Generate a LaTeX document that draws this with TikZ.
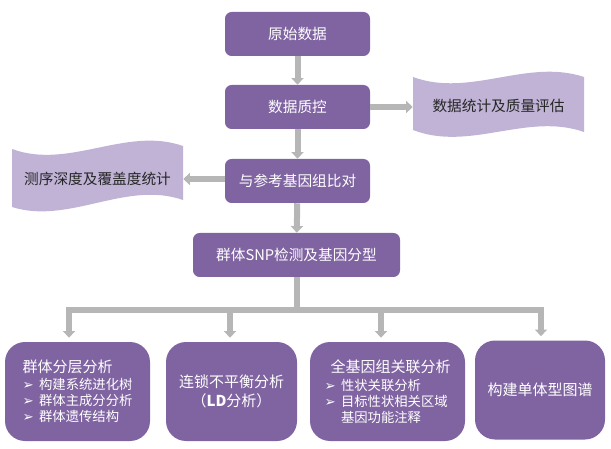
\documentclass[tikz,border=0pt]{standalone}
\usepackage{fontspec}
\setmainfont{Noto Sans CJK SC}
\newfontfamily\symfont{DejaVu Sans}
\usetikzlibrary{arrows.meta}

\definecolor{boxpurple}{RGB}{128,100,162}
\definecolor{bannerlilac}{RGB}{192,179,214}
\definecolor{bannerink}{RGB}{38,38,38}
\definecolor{arrowgray}{RGB}{182,182,182}

\newcommand{\bulletmark}{{\symfont\fontsize{10}{10}\selectfont ➢}\hspace{4pt}}

\begin{document}
\begin{tikzpicture}[x=0.75pt,y=0.75pt,yscale=-1,xscale=1,
    stepbox/.style={rounded corners=5pt, fill=boxpurple, text=white, minimum width=108.75pt, minimum height=33pt, inner sep=0pt, font=\fontsize{11}{13}\selectfont},
    resultbox/.style={rounded corners=15pt, fill=boxpurple, text=white, minimum height=74.25pt, inner sep=0pt},
    bannertext/.style={text=bannerink, inner sep=0pt, minimum width=128.25pt, font=\fontsize{11}{13}\selectfont},
    flow/.style={draw=arrowgray, line width=4.5pt},
    flowarrow/.style={flow, -{Triangle[width=9pt,length=5pt]}},
]
    \useasboundingbox (0,0) rectangle (611,449);

    %Shape: Wave [id:banner right]
    \fill [bannerlilac] (413,77) .. controls (470,98) and (527,58) .. (584,77) -- (584,132) .. controls (527,112) and (470,152) .. (413,130) -- cycle ;
    %Shape: Wave [id:banner left]
    \fill [bannerlilac] (12,149) .. controls (69,170) and (126,126) .. (183,146) -- (183,200) .. controls (126,180) and (69,225) .. (12,207) -- cycle ;

    % Step boxes
    \node [stepbox] (raw) at (297.5,34) {原始数据};
    \node [stepbox] (qc) at (297.5,107) {数据质控};
    \node [stepbox] (ref) at (297.5,181) {与参考基因组比对};
    \node [stepbox, minimum width=155.25pt] (snp) at (296.5,255) {群体SNP检测及基因分型};

    % Text Node
    \node [bannertext] (banR) at (498.5,106) {数据统计及质量评估};
    % Text Node
    \node [bannertext] (banL) at (97.5,179) {测序深度及覆盖度统计};

    % Result boxes
    \node [resultbox, minimum width=108.75pt, align=left, font=\fontsize{10}{12}\selectfont] (b1) at (77.5,391.5)
        {{\fontsize{11.25}{13}\selectfont 群体分层分析}\\[1pt]
         \bulletmark 构建系统进化树\\
         \bulletmark 群体主成分分析\\
         \bulletmark 群体遗传结构};
    \node [resultbox, minimum width=98.25pt, align=center, font=\fontsize{11.25}{14}\selectfont] (b2) at (231.5,391.5)
        {连锁不平衡分析\\（\textbf{LD}分析）};
    \node [resultbox, minimum width=116.25pt, align=left, font=\fontsize{10}{12}\selectfont] (b3) at (387.5,391.5)
        {\hspace{4.5pt}{\fontsize{11.25}{13}\selectfont 全基因组关联分析}\\[1pt]
         \bulletmark 性状关联分析\\
         \bulletmark 目标性状相关区域\\
         \phantom{\bulletmark}基因功能注释};
    \node [resultbox, minimum width=97.5pt, font=\fontsize{11.25}{14}\selectfont] (b4) at (540,390) {构建单体型图谱};

    % Connectors
    \draw [flowarrow] (raw) -- (qc);
    \draw [flowarrow] (qc) -- (ref);
    \draw [flowarrow] (ref) -- (snp);
    \draw [flowarrow] (qc.east) -- (qc.east -| banR.west);
    \draw [flowarrow] (ref.west |- banL) -- (banL.east);

    \coordinate (t1) at (69,310);
    \coordinate (t2) at (230,310);
    \coordinate (t3) at (381,310);
    \coordinate (t4) at (541,310);
    \draw [flow] (snp.south) -- (snp.south |- t1);
    \draw [flow, line cap=rect] (t1) -- (t4);
    \draw [flowarrow, shorten >=3pt] (t1) -- (b1.north -| t1);
    \draw [flowarrow, shorten >=3pt] (t2) -- (b2.north -| t2);
    \draw [flowarrow, shorten >=3pt] (t3) -- (b3.north -| t3);
    \draw [flowarrow, shorten >=3pt] (t4) -- (b4.north -| t4);

\end{tikzpicture}
\end{document}
